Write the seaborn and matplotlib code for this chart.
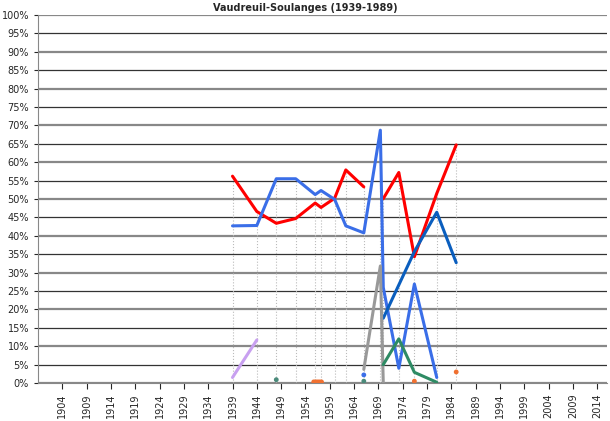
import matplotlib
matplotlib.use("Agg")
import matplotlib.pyplot as plt
import seaborn as sns
import numpy as np
import pandas as pd

sns.set_style("white")
plt.rcParams['font.family'] = ['DejaVu Sans']

title = "Vaudreuil-Soulanges (1939-1989)"

red_years = [1939, 1944, 1948, 1952, 1956, 1957.2, 1960, 1962.3, 1966, 1970, 1973.2, 1976.4, 1981, 1985]
red_vals = [56.2, 46.6, 43.4, 44.7, 48.9, 47.7, 50.2, 57.9, 53.3, 50.1, 57.2, 34.3, 51.5, 64.7]
red_seg = [0, 0, 0, 0, 0, 0, 0, 0, 0, 1, 1, 1, 1, 1]

blue_years = [1939, 1944, 1948, 1952, 1956, 1957.2, 1960, 1962.3, 1966, 1969.4, 1970, 1973.2, 1976.4, 1981]
blue_vals = [42.7, 42.8, 55.5, 55.5, 51.2, 52.3, 49.9, 42.7, 40.8, 68.7, 26.0, 4.0, 26.9, 1.5]

dblue_years = [1970, 1976.4, 1981, 1985]
dblue_vals = [17.6, 35.7, 46.4, 32.7]

grey_years = [1966, 1969.4, 1970]
grey_vals = [3.7, 31.8, 0.0]

green_years = [1970, 1973.2, 1976.4, 1981]
green_vals = [5.0, 12.0, 2.9, 0.2]

purple_years = [1939, 1944]
purple_vals = [1.5, 11.7]

dot_years = [1948, 1955.7, 1956.1, 1956.5, 1956.9, 1957.3, 1966, 1966, 1976.4, 1985]
dot_vals = [0.9, 0.3, 0.3, 0.3, 0.3, 0.3, 2.2, 0.5, 0.5, 3.0]
dot_colors = ["#4a8a7a", "#f07030", "#f07030", "#f07030", "#f07030", "#f07030", "#3a6ee8", "#4a8a7a", "#f07030", "#f07030"]

tick_years = list(range(1904, 2015, 5))
ytick_vals = list(range(0, 101, 5))

fig = plt.figure(figsize=(6.1, 4.21), dpi=100)
ax = fig.add_axes([38/610, 1-383/421, 1-38/610-0.005, (383-15)/421])

for y in ytick_vals:
    ax.axhline(y, color="#333333" if y % 10 else "#888888", lw=0.9 if y % 10 else 1.6, zorder=0)

# drop lines
allx = {}
for xs, vs in [(red_years, red_vals), (blue_years, blue_vals), (dblue_years, dblue_vals),
               (grey_years, grey_vals), (green_years, green_vals), (purple_years, purple_vals),
               (dot_years, dot_vals)]:
    for x, v in zip(xs, vs):
        allx[x] = max(allx.get(x, 0), v)
for x, v in allx.items():
    ax.plot([x, x], [0, v], color="#bbbbbb", lw=0.8, ls=":", zorder=1)

df_red = pd.DataFrame({"year": red_years, "val": red_vals, "seg": red_seg})
for s, g in df_red.groupby("seg"):
    sns.lineplot(data=g, x="year", y="val", color="#ff0000", lw=2.2, ax=ax, sort=False)
sns.lineplot(x=blue_years, y=blue_vals, color="#3a6ee8", lw=2.2, ax=ax, sort=False)
sns.lineplot(x=dblue_years, y=dblue_vals, color="#0a5ebe", lw=2.2, ax=ax, sort=False)
sns.lineplot(x=grey_years, y=grey_vals, color="#999999", lw=2.2, ax=ax, sort=False)
sns.lineplot(x=green_years, y=green_vals, color="#2e8b64", lw=2.2, ax=ax, sort=False)
sns.lineplot(x=purple_years, y=purple_vals, color="#c8a0f0", lw=2.2, ax=ax, sort=False)
ax.scatter(dot_years, dot_vals, c=dot_colors, s=6, zorder=5)

ax.set_xlim(1899, 2016)
ax.set_ylim(0, 100)
ax.set_xticks(tick_years)
ax.set_xticklabels([str(t) for t in tick_years], rotation=90, fontsize=7)
ax.set_yticks(ytick_vals)
ax.set_yticklabels([f"{t}%" for t in ytick_vals], fontsize=7)
ax.tick_params(axis="x", length=4, direction="out", bottom=True)
ax.tick_params(axis="y", length=3, left=True)
ax.set_xlabel("")
ax.set_ylabel("")
for sp in ["top", "right"]:
    ax.spines[sp].set_visible(False)
ax.spines["left"].set_color("#888888")
ax.spines["bottom"].set_color("#888888")
fig.text(0.5, 1-8/421, title, ha="center", va="center", fontsize=7, fontweight="bold")
fig.savefig("out.png", dpi=100)
